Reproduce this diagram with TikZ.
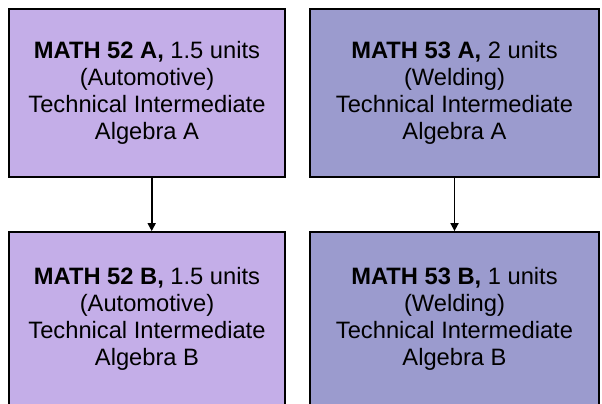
\documentclass[tikz,border=0pt]{standalone}
\usepackage{fontspec}
\setmainfont{Liberation Sans}
\usetikzlibrary{arrows.meta}
\definecolor{lav}{RGB}{196,174,232}
\definecolor{peri}{RGB}{155,155,206}
\tikzset{
  course/.style={draw=black, line width=1.8pt, rectangle, align=center,
    inner sep=0pt, font=\fontsize{23.7}{27}\selectfont},
  flow/.style={line width=1.7pt, -{Triangle[length=8pt,width=8pt]}}
}
\begin{document}
\begin{tikzpicture}[x=1pt,y=-1pt]
\useasboundingbox (0,0) rectangle (602,404);
\begin{scope}
\clip (0,0) rectangle (602,404);
\node[course, fill=lav, minimum width=276pt, minimum height=168pt] (a52) at (147,93)
  {\textbf{MATH 52 A,} 1.5 units\\(Automotive)\\Technical Intermediate\\Algebra A};
\node[course, fill=peri, minimum width=289pt, minimum height=168pt] (a53) at (454.5,93)
  {\textbf{MATH 53 A,} 2 units\\(Welding)\\Technical Intermediate\\Algebra A};
\node[course, fill=lav, minimum width=276pt, minimum height=173pt] (b52) at (147,318.5)
  {\textbf{MATH 52 B,} 1.5 units\\(Automotive)\\Technical Intermediate\\Algebra B};
\node[course, fill=peri, minimum width=289pt, minimum height=173pt] (b53) at (454.5,318.5)
  {\textbf{MATH 53 B,} 1 units\\(Welding)\\Technical Intermediate\\Algebra B};
\end{scope}
\draw[flow] ([xshift=4.7pt]a52.south) -- ([xshift=4.7pt]b52.north);
\draw[flow] (a53.south) -- (b53.north);
\end{tikzpicture}
\end{document}
